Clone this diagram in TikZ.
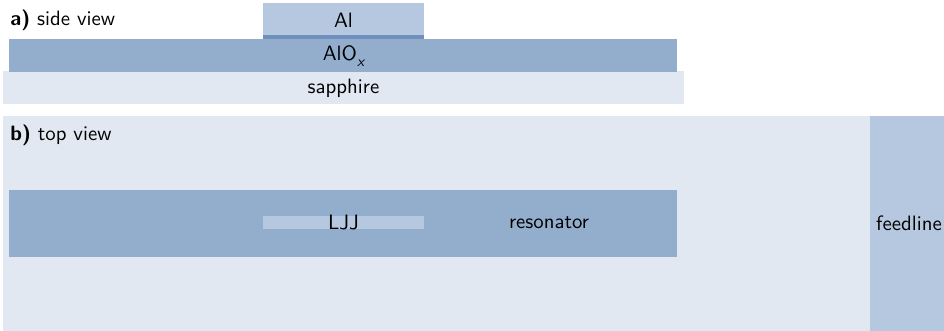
\documentclass[tikz,border=0pt]{standalone}
\definecolor{allight}{HTML}{B6C8DF}
\definecolor{almid}{HTML}{93AECC}
\definecolor{aldark}{HTML}{6F90BC}
\definecolor{alpale}{HTML}{E1E8F1}
\begin{document}
\begin{tikzpicture}[x=0.5pt,y=-0.5pt,
  lbl/.style={inner sep=0pt,font=\fontsize{10.4}{12}\selectfont\sffamily},
  tag/.style={lbl,anchor=west}]
\useasboundingbox (0,0) rectangle (944,331);
% side view
\fill[alpale] (3,71) rectangle (684,104);
\fill[almid] (9,39) rectangle (677,72);
\fill[allight] (263,3) rectangle (424,35);
\fill[aldark] (263,35) rectangle (424,39);
\node[lbl] (al) at (343.5,20) {Al};
\node[lbl] (alox) at (343.5,56) {AlO\raisebox{-0.6ex}{\fontsize{7.3}{8}\selectfont\itshape x}};
\node[lbl] (sapph) at (343.5,88) {sapphire};
\node[tag] (a) at (10,20) {\textbf{a)} side view};
% top view
\fill[alpale] (3,116) rectangle (870,331);
\fill[allight] (870,116) rectangle (944,331);
\fill[almid] (9,190) rectangle (677,257);
\fill[allight] (263,216) rectangle (424,229);
\node[lbl] (ljj) at (343.5,223) {LJJ};
\node[lbl] (res) at (549,223) {resonator};
\node[lbl] (feed) at (909,223) {feedline};
\node[tag] (b) at (10,135) {\textbf{b)} top view};
\end{tikzpicture}
\end{document}
